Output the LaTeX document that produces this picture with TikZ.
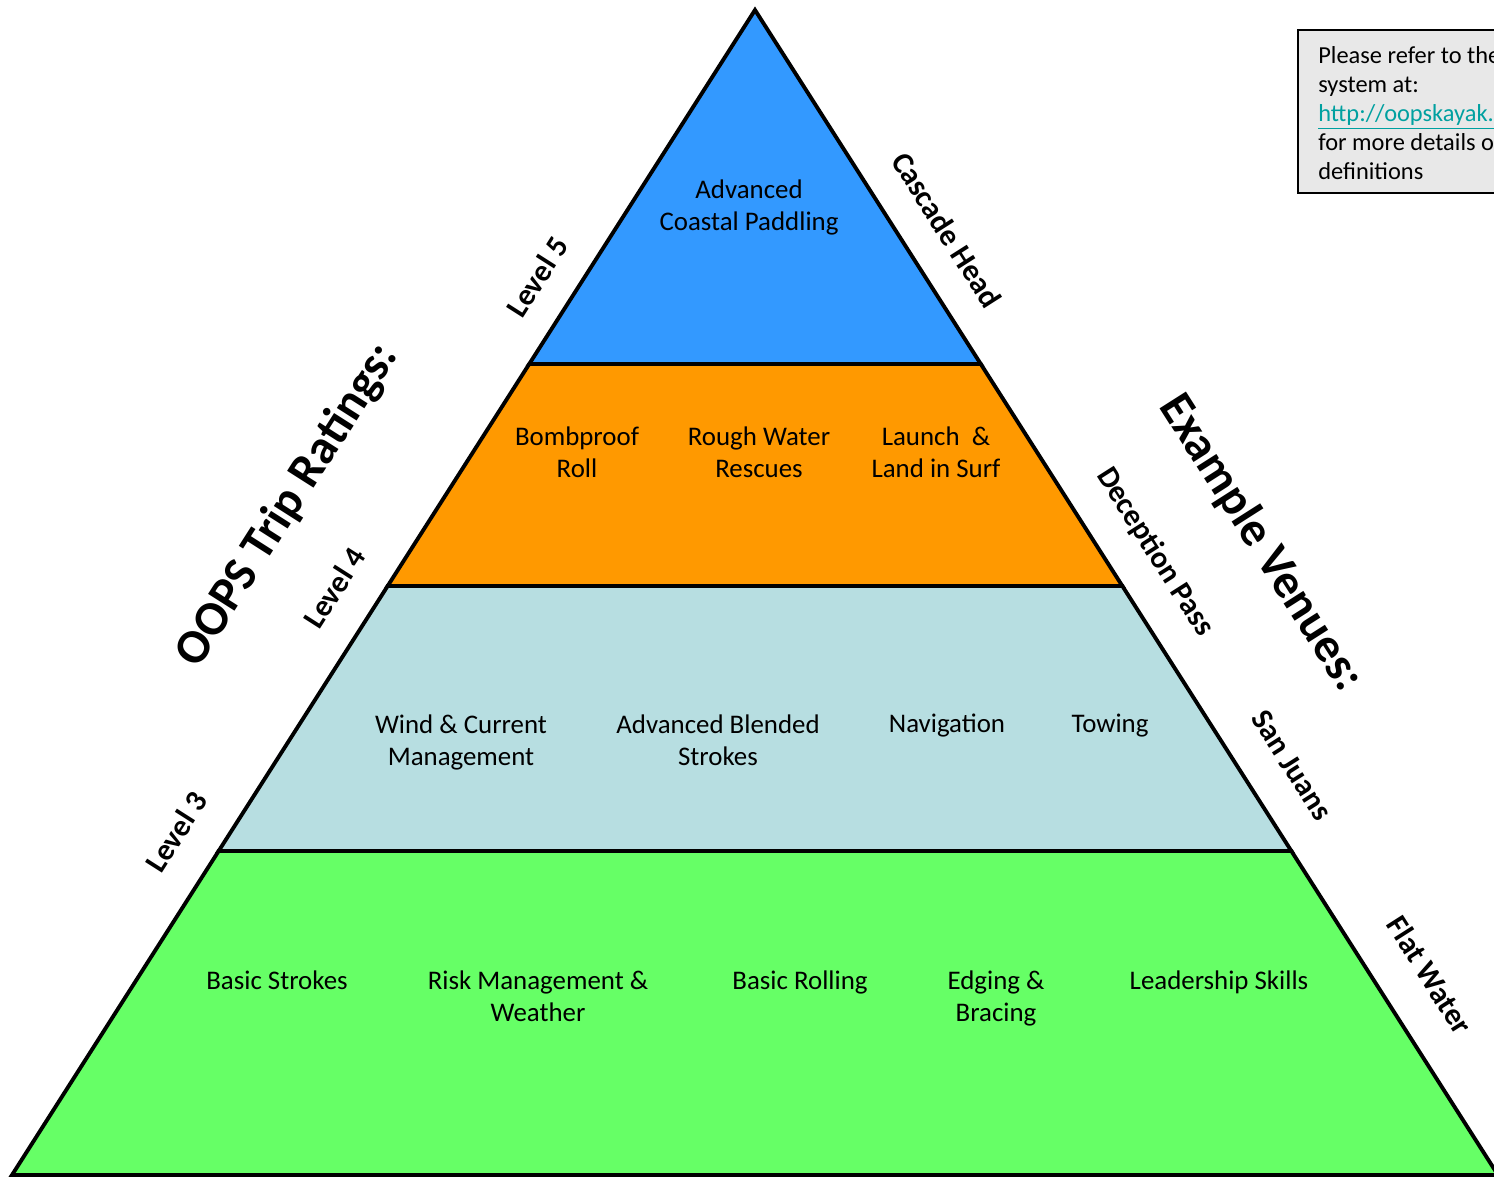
\documentclass[tikz,border=0pt]{standalone}
\usepackage{fontspec}
\setmainfont{Carlito}
\usetikzlibrary{calc}

\definecolor{topblue}{HTML}{3399FF}
\definecolor{surforange}{HTML}{FF9900}
\definecolor{paleblue}{HTML}{B7DEE1}
\definecolor{flatgreen}{HTML}{66FF66}
\definecolor{notegray}{HTML}{E8E8E8}
\definecolor{linkteal}{HTML}{00A0A0}

\tikzset{
  band/.style={draw=black, line width=2.2pt, line join=miter},
  skill/.style={align=center, inner sep=0pt, anchor=north,
    font=\fontsize{15.3}{18.4}\selectfont},
  level/.style={inner sep=0pt, font=\fontsize{17.5}{20}\selectfont\bfseries, rotate=57.5},
  venue/.style={inner sep=0pt, font=\fontsize{17.5}{20}\selectfont\bfseries, rotate=-57.5},
  heading/.style={inner sep=0pt, font=\fontsize{27.5}{32}\selectfont\bfseries}
}

\begin{document}
\begin{tikzpicture}[x=0.02cm, y=-0.02cm]
	\useasboundingbox (0,0) rectangle (1494,1178);

	\coordinate (apex) at (755,10); \coordinate (bl) at (12,1175);
	\coordinate (br) at (1498,1175);
	\coordinate (l5) at ($(apex)!0.3039!(bl)$); \coordinate (r5) at ($(apex)!0.3039!(br)$);
	\coordinate (l4) at ($(apex)!0.4944!(bl)$); \coordinate (r4) at ($(apex)!0.4944!(br)$);
	\coordinate (l3) at ($(apex)!0.7219!(bl)$); \coordinate (r3) at ($(apex)!0.7219!(br)$);

	\draw[band, fill=flatgreen] (l3) -- (r3) -- (br) -- (bl) -- cycle;
	\draw[band, fill=paleblue] (l4) -- (r4) -- (r3) -- (l3) -- cycle;
	\draw[band, fill=surforange] (l5) -- (r5) -- (r4) -- (l4) -- cycle;
	\draw[band, fill=topblue] (apex) -- (r5) -- (l5) -- cycle;

	% skills in each band
	\node[skill] (coastal) at (749,179) {Advanced\\Coastal Paddling};

	\node[skill] (roll) at (577,426) {Bombproof\\Roll};
	\node[skill] (rescues) at (759,426) {Rough Water\\Rescues};
	\node[skill] (surf) at (936,426) {Launch\ \ \&\\Land in Surf};

	\node[skill] (wind) at (461,714) {Wind \& Current\\Management};
	\node[skill] (blended) at (718,714) {Advanced Blended\\Strokes};
	\node[skill] (navigation) at (947,714) {Navigation};
	\node[skill] (towing) at (1110,714) {Towing};

	\node[skill] (strokes) at (277,970) {Basic Strokes};
	\node[skill] (risk) at (538,970) {Risk Management \&\\Weather};
	\node[skill] (rolling) at (800,970) {Basic Rolling};
	\node[skill] (edging) at (996,970) {Edging \&\\Bracing};
	\node[skill] (leadership) at (1219,970) {Leadership Skills};

	% ratings on the left side
	\node[level] (level5) at (537,277) {Level 5};
	\node[level] (level4) at (334,588) {Level 4};
	\node[level] (level3) at (176,832) {Level 3};
	\node[heading, rotate=57.5] (ratings) at (288,505) {OOPS Trip Ratings:};

	% venues on the right side
	\node[venue] (cascade) at (947,230) {Cascade Head};
	\node[venue] (deception) at (1155,552) {Deception Pass};
	\node[venue] (sanjuans) at (1292,765) {San Juans};
	\node[venue] (flatwater) at (1430,975) {Flat Water};
	\node[heading, rotate=-57.5] (venues) at (1261,543) {Example Venues:};

	% note box
	\draw[line width=1.2pt, fill=notegray] (1298,30) rectangle (1560,193);
	\node[align=left, anchor=north west, inner sep=0pt,
	  font=\fontsize{13.9}{16.5}\selectfont] (note) at (1318,46)
	  {Please refer to the OOPS\\system at:\\
	   \textcolor{linkteal}{\underline{http://oopskayak.org}}\\
	   for more details on\\definitions};
\end{tikzpicture}
\end{document}
